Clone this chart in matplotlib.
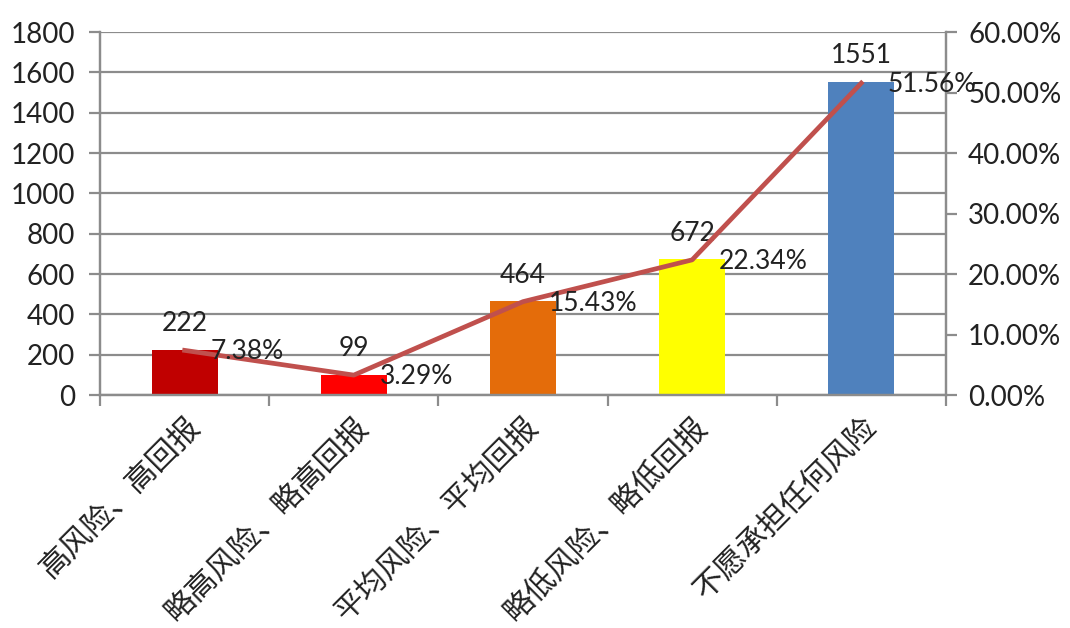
import numpy as np
import matplotlib.pyplot as plt
from matplotlib.ticker import FuncFormatter

plt.rcParams['font.family'] = ['Lato', 'Noto Sans CJK SC', 'DejaVu Sans']

categories = ['高风险、高回报', '略高风险、略高回报', '平均风险、平均回报', '略低风险、略低回报', '不愿承担任何风险']
counts = [222, 99, 464, 672, 1551]
shares = [7.38, 3.29, 15.43, 22.34, 51.56]
bar_colors = ['#C00000', '#FF0000', '#E46C0A', '#FFFF00', '#4F81BD']

fig = plt.figure(figsize=(10.7, 6.28), dpi=100)
ax = fig.add_axes([0.0935, 0.371, 0.7905, 0.578])
x = np.arange(len(categories))

ax.bar(x, counts, width=0.39, color=bar_colors, zorder=2)
ax.set_xlim(-0.5, len(categories) - 0.5)
ax.set_ylim(0, 1800)
ax.set_yticks(np.arange(0, 1801, 200))
ax.yaxis.grid(True, color='#8c8c8c', linewidth=1.6, zorder=0)
ax.set_axisbelow(True)
for c, v in zip(x, counts):
    ax.annotate(str(v), (c, v), xytext=(0, 10), textcoords='offset points',
                ha='center', va='bottom', fontsize=19, color='#222222', zorder=5)

# category boundaries carry the tick marks, labels sit under bar centres
ax.set_xticks(np.arange(-0.5, len(categories)), minor=False)
ax.set_xticklabels([])
ax.set_xticks(x, minor=True)
ax.set_xticklabels(categories, minor=True, rotation=45, ha='right', va='top',
                   rotation_mode='anchor', fontsize=22, color='#222222')
ax.tick_params(axis='x', which='major', length=8, width=1.6, color='#8c8c8c')
ax.tick_params(axis='x', which='minor', length=0, pad=12)
ax.tick_params(axis='y', length=8, width=1.6, color='#8c8c8c', labelsize=20,
               labelcolor='#222222', pad=10)

for side in ['top']:
    ax.spines[side].set_visible(False)
for side in ['left', 'bottom', 'right']:
    ax.spines[side].set_color('#8c8c8c')
    ax.spines[side].set_linewidth(1.6)

ax2 = ax.twinx()
ax2.set_position(ax.get_position())
ax2.plot(x, shares, color='#C0504D', linewidth=3.4, zorder=3)
ax2.set_ylim(0, 60)
ax2.set_yticks(np.arange(0, 61, 10))
ax2.yaxis.set_major_formatter(FuncFormatter(lambda v, p: '%.2f%%' % v))
ax2.tick_params(axis='y', length=8, width=1.6, color='#8c8c8c', labelsize=20,
                labelcolor='#222222', pad=8)
ax2.spines['top'].set_visible(False)
for side in ['left', 'bottom', 'right']:
    ax2.spines[side].set_color('#8c8c8c')
    ax2.spines[side].set_linewidth(1.6)
for c, v in zip(x, shares):
    ax2.annotate('%.2f%%' % v, (c, v), xytext=(19, -1), textcoords='offset points',
                 ha='left', va='center', fontsize=19, color='#222222', zorder=5)

fig.savefig('out.png', dpi=100, facecolor='white')
